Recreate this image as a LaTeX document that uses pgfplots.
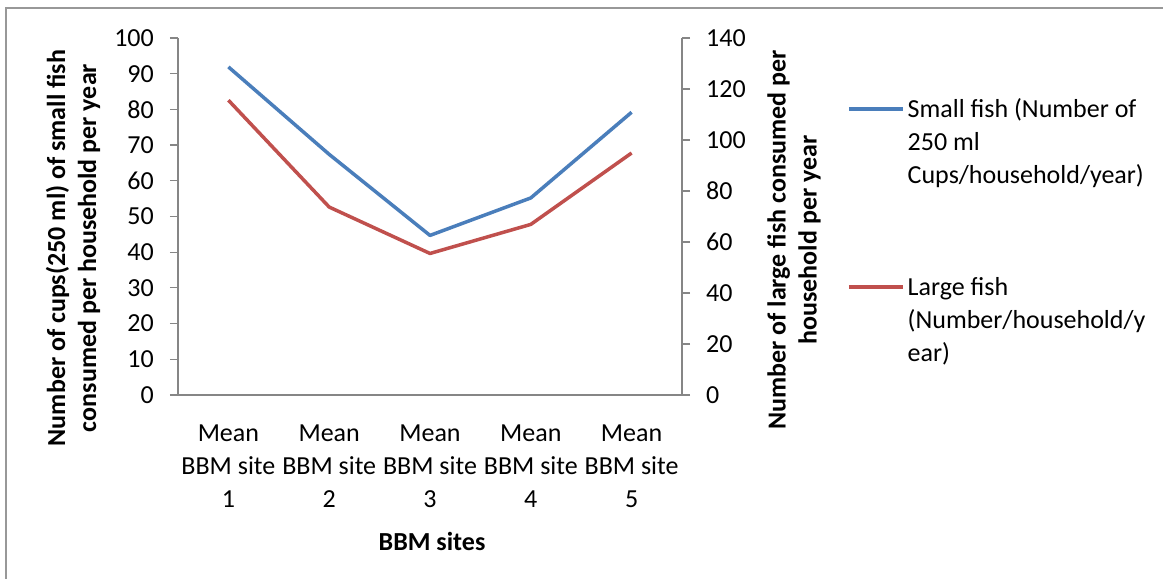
\documentclass[border=0pt]{standalone}
\usepackage{pgfplots}
\pgfplotsset{compat=1.18}
\usepackage{fontspec}
\setmainfont{Carlito}
\definecolor{axisgray}{RGB}{134,134,134}
\definecolor{exblue}{RGB}{74,126,187}
\definecolor{exred}{RGB}{192,80,77}
\newcommand{\cfont}{\fontsize{26bp}{33bp}\selectfont}
\newcommand{\lfont}{\fontsize{26bp}{31bp}\selectfont\bfseries}
\pgfplotsset{
  common/.style={
    at={(178bp,184bp)}, anchor=south west,
    scale only axis, width=504bp, height=357bp,
    xmin=0.5, xmax=5.5, ymin=0,
    axis line style={axisgray, line width=1.2bp},
    tick style={axisgray, line width=1.2bp},
    major tick length=8bp, tick align=outside,
    tick label style={font=\cfont, text=black},
    /pgf/number format/assume math mode=true,
    clip=false,
  },
}
\begin{document}
\begin{tikzpicture}
\useasboundingbox (0,0) rectangle (1163bp,579bp);
\draw[axisgray!85, line width=2bp] (6bp,0) -- (6bp,571bp) -- (1163bp,571bp);
\begin{axis}[common,
  ymax=100, ytick={0,10,...,100},
  axis y line*=left, axis x line*=bottom,
  xtick={1,2,3,4,5},
  xticklabels={{Mean\\BBM site\\1},{Mean\\BBM site\\2},{Mean\\BBM site\\3},{Mean\\BBM site\\4},{Mean\\BBM site\\5}},
  x tick style={draw=none},
  xticklabel style={align=center, anchor=north, inner sep=0pt, yshift=-22bp},
  yticklabel style={anchor=east, inner sep=0pt, xshift=-16bp},
  xlabel={BBM sites},
  ylabel={Number of cups(250 ml) of small fish\\consumed per household per year},
  every axis x label/.style={at={(axis description cs:0.504,-0.409)}, anchor=center, font=\lfont},
  every axis y label/.style={at={(axis description cs:-0.2083,0.4118)}, rotate=90, anchor=center, font=\lfont, align=center},
]
\addplot[exblue, line width=3.5bp, line join=round] coordinates {(1,91.9) (2,67.4) (3,44.7) (4,55.2) (5,79.2)};
\end{axis}
\begin{axis}[common,
  ymax=140, ytick={0,20,...,140},
  axis y line*=right, axis x line=none,
  yticklabel style={anchor=west, inner sep=0pt, xshift=16bp},
  ylabel={Number of large fish consumed per\\household per year},
  every axis y label/.style={at={(axis description cs:1.2222,0.4342)}, rotate=90, anchor=center, font=\lfont, align=center},
  legend cell align=left,
  legend style={draw=none, fill=none, at={(axis description cs:1.3274,0.8403)}, anchor=north west,
    font=\cfont, inner sep=0pt, row sep=0pt, column sep=3bp,
    nodes={inner sep=0pt, text height=22bp, text depth=11bp}},
  legend image code/.code={\draw[#1] (0bp,2.5bp) -- (54bp,2.5bp);},
]
\addlegendimage{exblue, line width=3.5bp}
\addlegendentry{Small fish (Number of}
\addlegendimage{empty legend}
\addlegendentry{250 ml}
\addlegendimage{empty legend}
\addlegendentry[text depth=90bp]{Cups/household/year)}
\addplot[exred, line width=3.5bp, line join=round] coordinates {(1,115.6) (2,73.7) (3,55.5) (4,66.9) (5,94.9)};
\addlegendentry{Large fish}
\addlegendimage{empty legend}
\addlegendentry{(Number/household/y}
\addlegendimage{empty legend}
\addlegendentry{ear)}
\end{axis}
\end{tikzpicture}
\end{document}
